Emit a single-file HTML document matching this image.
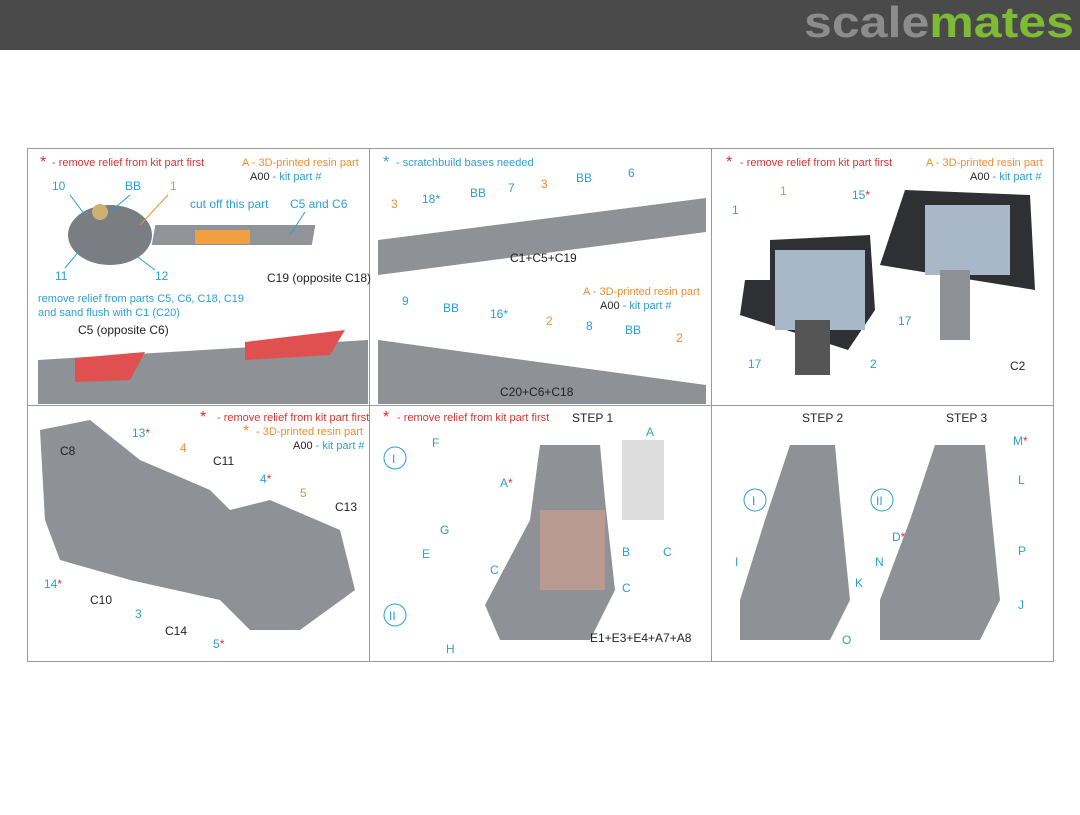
<!DOCTYPE html>
<html><head><meta charset="utf-8"><style>
body{margin:0;width:1080px;height:810px;background:#fff;overflow:hidden;font-family:"Liberation Sans",sans-serif}
svg text{font-family:"Liberation Sans",sans-serif}
</style></head><body>
<svg width="1080" height="810" viewBox="0 0 1080 810">
<rect x="0" y="0" width="1080" height="50" fill="#4a4a4a"/>
<text x="804" y="37" font-size="44" font-weight="bold" fill="#8c8c8c" textLength="270" lengthAdjust="spacingAndGlyphs">scale<tspan fill="#7dbb35">mates</tspan></text>
<rect x="27.5" y="148.5" width="1026" height="513" fill="none" stroke="#999"/>
<line x1="369.5" y1="148" x2="369.5" y2="662" stroke="#999"/>
<line x1="711.5" y1="148" x2="711.5" y2="662" stroke="#999"/>
<line x1="27" y1="405.5" x2="1054" y2="405.5" stroke="#999"/>
<g font-size="11">
<!-- panel 1 -->
<text x="40" y="167" fill="#e03030" font-size="16">*</text><text x="52" y="166" fill="#e03030">- remove relief from kit part first</text>
<text x="242" y="166" fill="#f08c30">A - 3D-printed resin part</text>
<text x="250" y="180" fill="#222">A00 <tspan fill="#2a9fd6">- kit part #</tspan></text>
<ellipse cx="110" cy="235" rx="42" ry="30" fill="#7a7d82"/><circle cx="100" cy="212" r="8" fill="#d0b070"/>
<rect x="195" y="225" width="160" height="20" fill="#909398" transform="skewX(-10)"/><rect x="195" y="230" width="55" height="14" fill="#f0a040"/>
<g stroke="#2a9fd6" fill="none"><line x1="70" y1="195" x2="85" y2="215"/><line x1="130" y1="195" x2="110" y2="212"/><line x1="65" y1="268" x2="80" y2="250"/><line x1="155" y1="270" x2="135" y2="255"/><line x1="305" y1="212" x2="290" y2="235"/></g>
<line x1="168" y1="195" x2="140" y2="225" stroke="#f08c30"/>
<g fill="#2a9fd6" font-size="12"><text x="52" y="190">10</text><text x="125" y="190">BB</text><text x="55" y="280">11</text><text x="155" y="280">12</text><text x="190" y="208">cut off this part</text><text x="290" y="208">C5 and C6</text>
<text x="38" y="302" font-size="11">remove relief from parts C5, C6, C18, C19</text><text x="38" y="316" font-size="11">and sand flush with C1 (C20)</text></g>
<text x="170" y="190" fill="#f08c30" font-size="12">1</text>
<text x="267" y="282" fill="#222" font-size="12">C19 (opposite C18)</text>
<text x="78" y="334" fill="#222" font-size="12">C5 (opposite C6)</text>
<text x="140" y="396" fill="#222" font-size="12">C1 (opposite C20)</text>
<polygon points="38,360 368,340 368,404 38,404" fill="#8e9196"/>
<polygon points="75,358 145,352 130,380 75,382" fill="#e05050"/>
<polygon points="245,342 345,330 330,355 245,360" fill="#e05050"/>
<!-- panel 2 -->
<text x="383" y="167" fill="#2a9fd6" font-size="16">*</text><text x="396" y="166" fill="#2a9fd6">- scratchbuild bases needed</text>
<polygon points="378,240 706,198 706,232 378,275" fill="#8e9196"/>
<polygon points="378,340 706,385 706,404 378,404" fill="#8e9196"/>
<g fill="#2a9fd6" font-size="12"><text x="422" y="203">18*</text><text x="470" y="197">BB</text><text x="508" y="192">7</text><text x="576" y="182">BB</text><text x="628" y="177">6</text><text x="490" y="318">16*</text><text x="402" y="305">9</text><text x="443" y="312">BB</text><text x="586" y="330">8</text><text x="625" y="334">BB</text></g>
<g fill="#f08c30" font-size="12"><text x="391" y="208">3</text><text x="541" y="188">3</text><text x="546" y="325">2</text><text x="676" y="342">2</text></g>
<text x="510" y="262" fill="#222" font-size="12">C1+C5+C19</text>
<text x="500" y="396" fill="#222" font-size="12">C20+C6+C18</text>
<text x="583" y="295" fill="#f08c30">A - 3D-printed resin part</text><text x="600" y="309" fill="#222">A00 <tspan fill="#2a9fd6">- kit part #</tspan></text>
<!-- panel 3 -->
<text x="726" y="167" fill="#e03030" font-size="16">*</text><text x="740" y="166" fill="#e03030">- remove relief from kit part first</text>
<text x="926" y="166" fill="#f08c30">A - 3D-printed resin part</text><text x="970" y="180" fill="#222">A00 <tspan fill="#2a9fd6">- kit part #</tspan></text>
<polygon points="770,240 870,235 875,310 848,350 740,315 745,280 770,280" fill="#2e3034"/>
<rect x="775" y="250" width="90" height="80" fill="#a9b8c8"/>
<rect x="795" y="320" width="35" height="55" fill="#555"/>
<polygon points="905,190 1030,195 1035,290 880,265" fill="#2e3034"/>
<rect x="925" y="205" width="85" height="70" fill="#a9b8c8"/>
<rect x="940" y="270" width="30" height="70" fill="#8e9196"/>
<g fill="#2a9fd6" font-size="12"><text x="732" y="214">1</text><text x="852" y="199">15<tspan fill="#e03030">*</tspan></text><text x="748" y="368">17</text><text x="870" y="368">2</text><text x="898" y="325">17</text></g>
<text x="780" y="195" fill="#f08c30" font-size="12">1</text>
<text x="1010" y="370" fill="#222" font-size="12">C2</text>
<!-- panel 4 -->
<text x="200" y="422" fill="#e03030" font-size="16">*</text><text x="217" y="421" fill="#e03030">- remove relief from kit part first</text>
<text x="243" y="436" fill="#f08c30" font-size="16">*</text><text x="256" y="435" fill="#f08c30">- 3D-printed resin part</text>
<text x="293" y="449" fill="#222">A00 <tspan fill="#2a9fd6">- kit part #</tspan></text>
<polygon points="40,430 90,420 140,460 210,490 230,510 270,500 340,530 355,590 300,630 250,630 220,600 130,580 60,560 45,520" fill="#8e9196"/>
<g fill="#2a9fd6" font-size="12"><text x="132" y="437">13<tspan fill="#e03030">*</tspan></text><text x="260" y="483">4<tspan fill="#e03030">*</tspan></text><text x="44" y="588">14<tspan fill="#e03030">*</tspan></text><text x="135" y="618">3</text><text x="213" y="648">5<tspan fill="#e03030">*</tspan></text></g>
<g fill="#f08c30" font-size="12"><text x="180" y="452">4</text><text x="300" y="497">5</text></g>
<g fill="#222" font-size="12"><text x="60" y="455">C8</text><text x="213" y="465">C11</text><text x="335" y="511">C13</text><text x="90" y="604">C10</text><text x="165" y="635">C14</text></g>
<!-- panel 5 -->
<text x="383" y="422" fill="#e03030" font-size="16">*</text><text x="397" y="421" fill="#e03030">- remove relief from kit part first</text>
<text x="572" y="422" fill="#222" font-size="12">STEP 1</text>
<circle cx="395" cy="458" r="11" fill="none" stroke="#2a9fd6"/><text x="392" y="463" fill="#2a9fd6" font-size="12">I</text>
<circle cx="395" cy="615" r="11" fill="none" stroke="#2a9fd6"/><text x="389" y="620" fill="#2a9fd6" font-size="12">II</text>
<polygon points="540,445 600,445 605,500 615,590 590,640 500,640 485,605 530,520" fill="#8e9196"/>
<rect x="540" y="510" width="65" height="80" fill="#b89a90"/>
<rect x="622" y="440" width="42" height="80" fill="#ddd"/>
<g fill="#2a9fd6" font-size="12"><text x="432" y="447">F</text><text x="422" y="558">E</text><text x="440" y="534">G</text><text x="446" y="653">H</text><text x="500" y="487">A<tspan fill="#e03030">*</tspan></text><text x="622" y="556">B</text><text x="490" y="574">C</text><text x="622" y="592">C</text><text x="646" y="436">A</text><text x="663" y="556">C</text></g>
<text x="590" y="642" fill="#222" font-size="12">E1+E3+E4+A7+A8</text>
<!-- panel 6 -->
<text x="802" y="422" fill="#222" font-size="12">STEP 2</text><text x="946" y="422" fill="#222" font-size="12">STEP 3</text>
<polygon points="790,445 835,445 840,500 850,600 830,640 740,640 740,600 765,520" fill="#8e9196"/>
<polygon points="935,445 985,445 990,500 1000,600 980,640 880,640 880,600 910,520" fill="#8e9196"/>
<circle cx="755" cy="500" r="11" fill="none" stroke="#2a9fd6"/><text x="752" y="505" fill="#2a9fd6" font-size="12">I</text>
<circle cx="882" cy="500" r="11" fill="none" stroke="#2a9fd6"/><text x="876" y="505" fill="#2a9fd6" font-size="12">II</text>
<g fill="#2a9fd6" font-size="12"><text x="1013" y="445">M<tspan fill="#e03030">*</tspan></text><text x="1018" y="484">L</text><text x="735" y="566">I</text><text x="855" y="587">K</text><text x="892" y="541">D<tspan fill="#e03030">*</tspan></text><text x="1018" y="555">P</text><text x="875" y="566">N</text><text x="1018" y="609">J</text><text x="842" y="644">O</text></g>
</g>
</svg>
</body></html>
